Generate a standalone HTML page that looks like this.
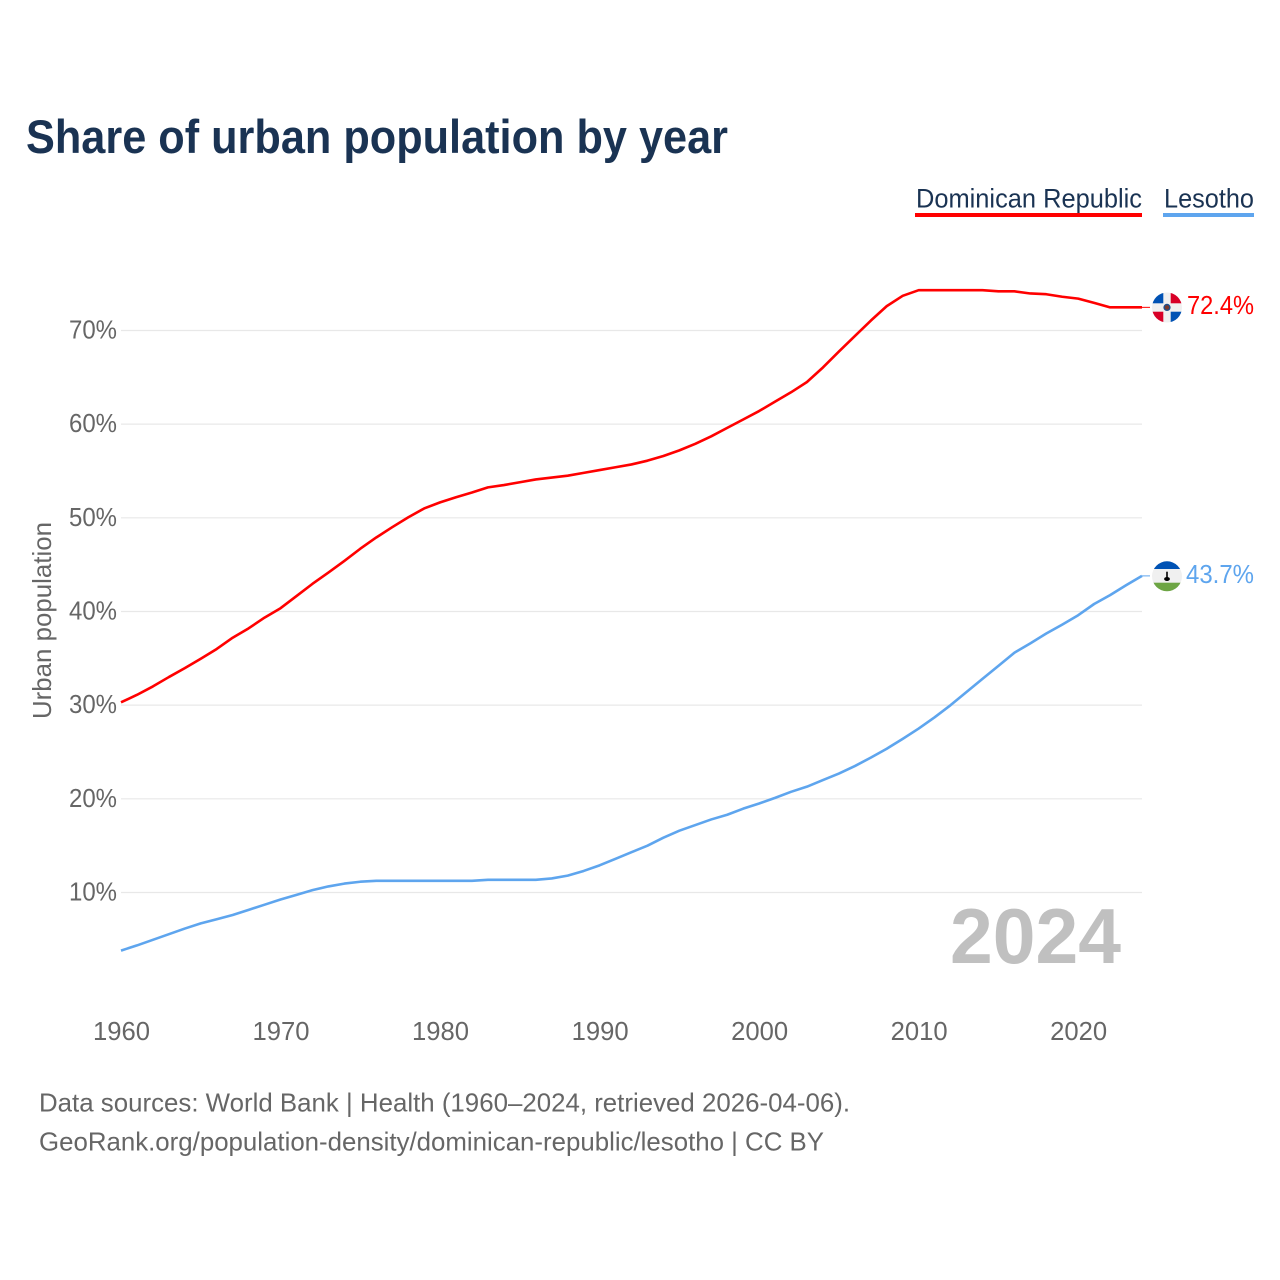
<!DOCTYPE html>
<html>
<head>
<meta charset="utf-8">
<style>
html,body{margin:0;padding:0;background:#fff;}
svg{display:block;}
text{font-family:"Liberation Sans",sans-serif;}
</style>
</head>
<body>
<svg id="chart" width="1280" height="1280" viewBox="0 0 1280 1280" xmlns="http://www.w3.org/2000/svg">
  <defs>
    <clipPath id="clip-dr"><circle cx="1167" cy="307.5" r="15"></circle></clipPath>
    <clipPath id="clip-ls"><circle cx="1167" cy="576.3" r="15"></circle></clipPath>
  </defs>
  <rect x="0" y="0" width="1280" height="1280" fill="#fff"></rect>
  <text x="26" y="153" font-size="47" font-weight="700" fill="#1a3353" textLength="702" lengthAdjust="spacingAndGlyphs">Share of urban population by year</text>

  <text x="916" y="207.5" font-size="26.5" fill="#1a3353" textLength="226" lengthAdjust="spacingAndGlyphs">Dominican Republic</text>
  <rect x="915" y="213" width="227" height="4" fill="#ff0000"></rect>
  <text x="1164" y="207.5" font-size="26.5" fill="#1a3353" textLength="90" lengthAdjust="spacingAndGlyphs">Lesotho</text>
  <rect x="1163" y="213" width="91" height="4" fill="#5ea5ee"></rect>

  <g id="grid"></g>
  <g id="yticks"></g>
  <g id="xticks"></g>

  <text transform="translate(51,620.5) rotate(-90)" text-anchor="middle" font-size="26" fill="#666666" textLength="197" lengthAdjust="spacingAndGlyphs">Urban population</text>

  <text x="950" y="963" font-size="78" font-weight="700" fill="#c0c0c0" textLength="171" lengthAdjust="spacingAndGlyphs">2024</text>

  <g id="series"></g>

  <g clip-path="url(#clip-dr)">
    <rect x="1152" y="292.5" width="30" height="30" fill="#f0f0f0"></rect>
    <rect x="1152" y="292.5" width="11.3" height="10.8" fill="#0052b4"></rect>
    <rect x="1170.7" y="292.5" width="11.3" height="10.8" fill="#d80027"></rect>
    <rect x="1152" y="311.7" width="11.3" height="10.8" fill="#d80027"></rect>
    <rect x="1170.7" y="311.7" width="11.3" height="10.8" fill="#0052b4"></rect>
    <circle cx="1167" cy="307.4" r="3.6" fill="#1f4f8a"></circle>
    <circle cx="1167" cy="307.4" r="2.2" fill="#7a3a2d"></circle>
  </g>
  <g clip-path="url(#clip-ls)">
    <rect x="1152" y="561" width="30" height="31" fill="#f0f0f0"></rect>
    <rect x="1152" y="561" width="30" height="8" fill="#0052b4"></rect>
    <rect x="1152" y="582.7" width="30" height="9" fill="#6da544"></rect>
    <rect x="1166.2" y="571.7" width="1.6" height="6" fill="#000"></rect>
    <ellipse cx="1167" cy="579" rx="2.9" ry="2" fill="#000"></ellipse>
  </g>

  <text x="1187" y="314" font-size="26" fill="#ff0000" textLength="67" lengthAdjust="spacingAndGlyphs">72.4%</text>
  <text x="1186" y="583" font-size="26" fill="#5ea5ee" textLength="68" lengthAdjust="spacingAndGlyphs">43.7%</text>

  <text x="39" y="1111.5" font-size="26" fill="#666666" textLength="811" lengthAdjust="spacingAndGlyphs">Data sources: World Bank | Health (1960–2024, retrieved 2026-04-06).</text>
  <text x="39" y="1150.5" font-size="26" fill="#666666" textLength="785" lengthAdjust="spacingAndGlyphs">GeoRank.org/population-density/dominican-republic/lesotho | CC BY</text>
</svg>
<script>
const startYear = 1960;
const yTickValues = [10, 20, 30, 40, 50, 60, 70];
const yTickLabels = ['10%', '20%', '30%', '40%', '50%', '60%', '70%'];
const xTickYears = [1960, 1970, 1980, 1990, 2000, 2010, 2020];
const xTickLabels = ['1960', '1970', '1980', '1990', '2000', '2010', '2020'];
const dominicanRepublic = [
  30.3, 31.1, 32.0, 33.0, 33.95, 34.95, 36.0, 37.2, 38.2, 39.35,
  40.35, 41.65, 42.95, 44.15, 45.4, 46.7, 47.9, 49.0, 50.05, 51.0,
  51.65, 52.2, 52.7, 53.25, 53.5, 53.8, 54.1, 54.3, 54.5, 54.8,
  55.1, 55.4, 55.7, 56.1, 56.6, 57.2, 57.9, 58.7, 59.6, 60.5,
  61.4, 62.4, 63.4, 64.5, 66.05, 67.75, 69.4, 71.05, 72.6, 73.7,
  74.3, 74.3, 74.3, 74.3, 74.3, 74.18, 74.18, 73.95, 73.87, 73.6,
  73.4, 72.95, 72.47, 72.47, 72.47
];
const lesotho = [
  3.8, 4.35, 4.95, 5.55, 6.15, 6.7, 7.15, 7.6, 8.15, 8.7,
  9.25, 9.75, 10.25, 10.65, 10.95, 11.15, 11.25, 11.25, 11.25, 11.25,
  11.25, 11.25, 11.25, 11.35, 11.35, 11.35, 11.35, 11.5, 11.8, 12.3,
  12.9, 13.6, 14.3, 15.0, 15.85, 16.6, 17.2, 17.8, 18.3, 18.95,
  19.5, 20.1, 20.75, 21.3, 22.0, 22.7, 23.5, 24.4, 25.35, 26.4,
  27.5, 28.7, 30.0, 31.4, 32.8, 34.2, 35.6, 36.6, 37.65, 38.6,
  39.6, 40.8, 41.75, 42.8, 43.8
];

const svgNS = 'http://www.w3.org/2000/svg';
function xScale(year) { return 121 + (year - 1960) * 15.953; }
function yScale(pct) { return 892.5 - (pct - 10) * 9.367; }

const grid = document.getElementById('grid');
const yticks = document.getElementById('yticks');
yTickValues.forEach(function (v, i) {
  const line = document.createElementNS(svgNS, 'line');
  
  
  line.setAttribute('x1', 121);
  line.setAttribute('x2', 1142);
  line.setAttribute('y1', yScale(v));
  line.setAttribute('y2', yScale(v));
  line.setAttribute('stroke', '#e8e8e8');
  line.setAttribute('stroke-width', '1.2');
  grid.appendChild(line);
  const t = document.createElementNS(svgNS, 'text');
  
  
  t.setAttribute('x', 69);
  t.setAttribute('y', yScale(v) + 8);
  t.setAttribute('font-size', '26');
  t.setAttribute('fill', '#666666');
  t.setAttribute('textLength', '48');
  t.setAttribute('lengthAdjust', 'spacingAndGlyphs');
  t.textContent = yTickLabels[i];
  yticks.appendChild(t);
});

const xticks = document.getElementById('xticks');
xTickYears.forEach(function (year, i) {
  const t = document.createElementNS(svgNS, 'text');
  
  
  t.setAttribute('x', xScale(year) - 28);
  t.setAttribute('y', 1040);
  t.setAttribute('font-size', '26');
  t.setAttribute('fill', '#666666');
  t.setAttribute('textLength', '57');
  t.setAttribute('lengthAdjust', 'spacingAndGlyphs');
  t.textContent = xTickLabels[i];
  xticks.appendChild(t);
});

const seriesGroup = document.getElementById('series');
function drawSeries(values, color, name) {
  const pts = values.map(function (v, i) {
    return xScale(startYear + i).toFixed(2) + ',' + yScale(v).toFixed(2);
  });
  const line = document.createElementNS(svgNS, 'polyline');
  
  
  line.setAttribute('points', pts.join(' '));
  line.setAttribute('fill', 'none');
  line.setAttribute('stroke', color);
  line.setAttribute('stroke-width', '2.6');
  line.setAttribute('stroke-linejoin', 'round');
  seriesGroup.appendChild(line);
  const last = values[values.length - 1];
  const lastX = xScale(startYear + values.length - 1);
  const conn = document.createElementNS(svgNS, 'line');
  
  
  conn.setAttribute('x1', lastX);
  conn.setAttribute('x2', lastX + 8);
  conn.setAttribute('y1', yScale(last));
  conn.setAttribute('y2', yScale(last));
  conn.setAttribute('stroke', color);
  conn.setAttribute('stroke-width', '1');
  seriesGroup.appendChild(conn);
}
drawSeries(lesotho, '#5ea5ee', 'line-lesotho');
drawSeries(dominicanRepublic, '#ff0000', 'line-dominican-republic');
</script>
</body>
</html>
